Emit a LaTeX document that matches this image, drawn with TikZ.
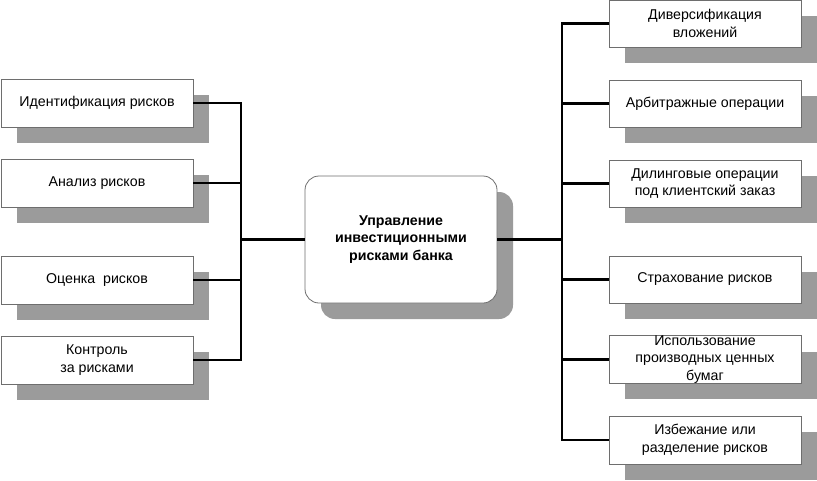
\documentclass[tikz,border=0pt]{standalone}
\usepackage{fontspec}
\setmainfont{Liberation Sans}
\usetikzlibrary{shadows}
\definecolor{shadowgray}{RGB}{155,155,155}
\definecolor{bordergray}{RGB}{110,110,110}
\begin{document}
\begin{tikzpicture}[x=1pt,y=-1pt,
  boxstyle/.style={draw=bordergray, line width=0.8pt, fill=white,
    minimum width=192pt, minimum height=48pt, inner sep=1pt,
    align=center, font=\fontsize{14.2}{17.6}\selectfont,
    drop shadow={shadow xshift=16pt, shadow yshift=-16pt, fill=shadowgray, opacity=1, draw=none}},
  centerstyle/.style={boxstyle, rounded corners=14pt, minimum height=127pt,
    font=\fontsize{14.2}{17.6}\selectfont\bfseries},
  link/.style={line width=2.6pt, black}]
\useasboundingbox (0,0) rectangle (817,480);
% left
\node[boxstyle] (L1) at (97,103) {Идентификация рисков};
\node[boxstyle] (L2) at (97,183) {Анализ рисков};
\node[boxstyle] (L3) at (97,280) {Оценка\ \ рисков};
\node[boxstyle] (L4) at (97,360) {Контроль\\за рисками};
% center
\node[centerstyle] (C) at (401,239.5) {Управление\\инвестиционными\\рисками банка};
% right
\node[boxstyle, minimum height=47pt] (R1) at (705,23.5) {Диверсификация\\вложений};
\node[boxstyle, minimum height=47pt] (R2) at (705,103.5) {Арбитражные операции};
\node[boxstyle, minimum height=47pt] (R3) at (705,183.5) {Дилинговые операции\\под клиентский заказ};
\node[boxstyle, minimum height=47pt] (R4) at (705,279.5) {Страхование рисков};
\node[boxstyle, minimum height=47pt, inner sep=0pt] (R5) at (705,359.5) {Использование\\производных ценных\\бумаг};
\node[boxstyle] (R6) at (705,440) {Избежание или\\разделение рисков};
% connectors
\coordinate (lb) at (241,239.5);
\coordinate (rb) at (562,239.5);
\draw[link] (L1.east) -| (lb) |- (L4.east);
\foreach \n in {L2,L3} \draw[link] (\n.east) -| (lb);
\draw[link] (lb) -- (C.west);
\draw[link] (C.east) -- (rb);
\draw[link] (R1.west) -| (rb) |- (R6.west);
\foreach \n in {R2,R3,R4,R5} \draw[link] (rb) |- (\n.west);
\end{tikzpicture}
\end{document}
